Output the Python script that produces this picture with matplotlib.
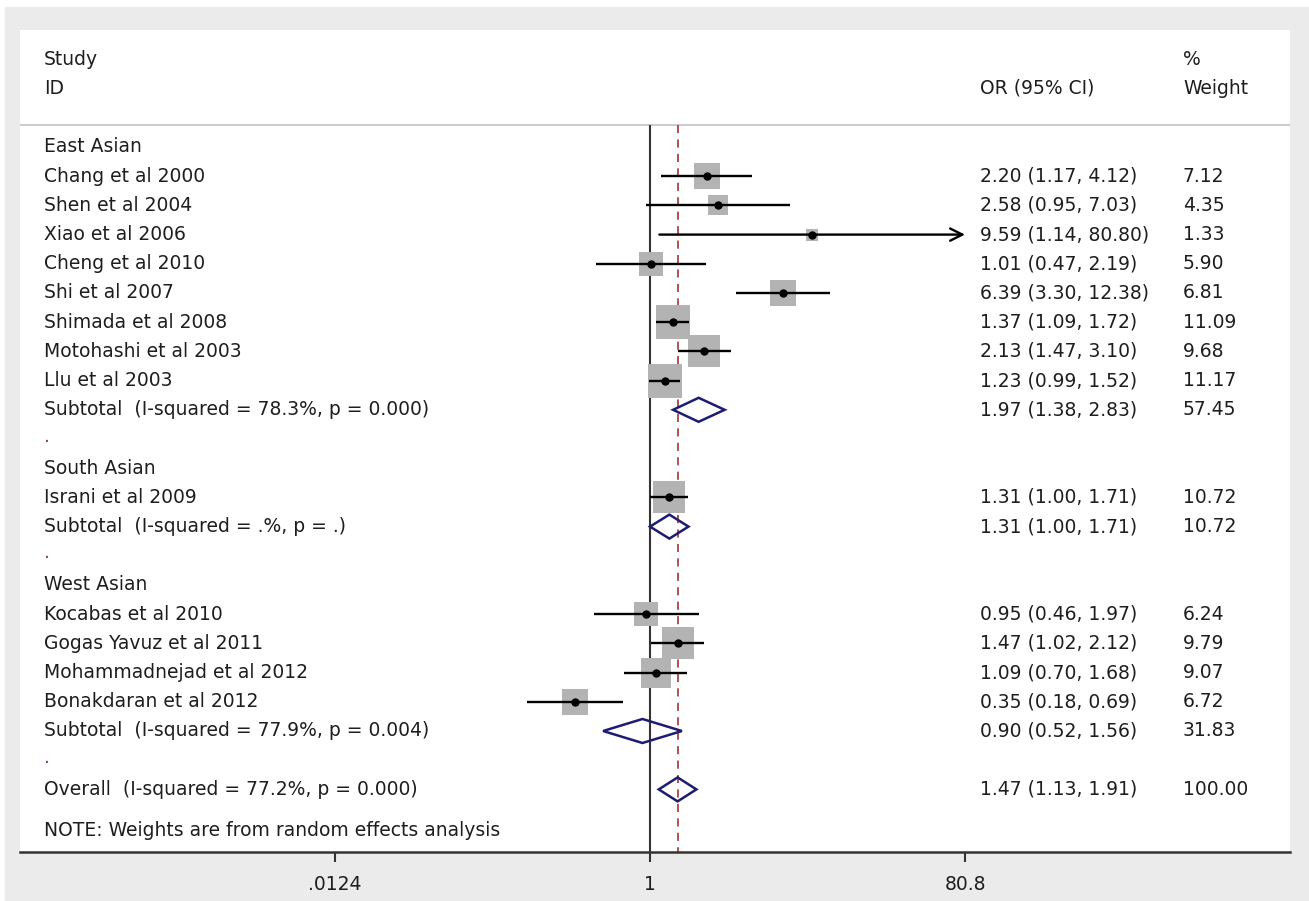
import matplotlib
matplotlib.use("Agg")
import matplotlib.pyplot as plt
from matplotlib.patches import Rectangle, Polygon
import numpy as np

plt.rcParams['font.family'] = ['DejaVu Sans']

# ---------------- data ----------------
groups = ["East Asian", "South Asian", "West Asian"]
studies = [
    ["Chang et al 2000", "Shen et al 2004", "Xiao et al 2006", "Cheng et al 2010",
     "Shi et al 2007", "Shimada et al 2008", "Motohashi et al 2003", "Llu et al 2003"],
    ["Israni et al 2009"],
    ["Kocabas et al 2010", "Gogas Yavuz et al 2011", "Mohammadnejad et al 2012",
     "Bonakdaran et al 2012"],
]
study_or = [[2.20, 2.58, 9.59, 1.01, 6.39, 1.37, 2.13, 1.23], [1.31], [0.95, 1.47, 1.09, 0.35]]
study_lo = [[1.17, 0.95, 1.14, 0.47, 3.30, 1.09, 1.47, 0.99], [1.00], [0.46, 1.02, 0.70, 0.18]]
study_hi = [[4.12, 7.03, 80.80, 2.19, 12.38, 1.72, 3.10, 1.52], [1.71], [1.97, 2.12, 1.68, 0.69]]
study_w = [[7.12, 4.35, 1.33, 5.90, 6.81, 11.09, 9.68, 11.17], [10.72], [6.24, 9.79, 9.07, 6.72]]

sub_labels = ["Subtotal  (I-squared = 78.3%, p = 0.000)",
              "Subtotal  (I-squared = .%, p = .)",
              "Subtotal  (I-squared = 77.9%, p = 0.004)"]
sub_or = [1.97, 1.31, 0.90]
sub_lo = [1.38, 1.00, 0.52]
sub_hi = [2.83, 1.71, 1.56]
sub_w = [57.45, 10.72, 31.83]

overall_label = "Overall  (I-squared = 77.2%, p = 0.000)"
overall_or, overall_lo, overall_hi, overall_w = 1.47, 1.13, 1.91, 100.00

xticks = [0.0124, 1, 80.8]
xticklabels = [".0124", "1", "80.8"]
note = "NOTE: Weights are from random effects analysis"

# ---------------- layout ----------------
W, H = 1309, 901
fig = plt.figure(figsize=(W / 100, H / 100), dpi=100, facecolor="white")
fig.patches.append(Rectangle((5 / W, 0), 1, (H - 7) / H, transform=fig.transFigure,
                             color="#ebebeb", zorder=-10))

px_left, px_right, px_top, px_bottom = 20, 1290, 30, 852
ax = fig.add_axes([px_left / W, (H - px_bottom) / H,
                   (px_right - px_left) / W, (px_bottom - px_top) / H])
ax.set_facecolor("white")

row0, dy = 147, 29.2
y_top = (px_top - row0) / dy
y_bot = (px_bottom - row0) / dy
ax.set_ylim(y_bot, y_top)

ax.set_xscale("log")
ppl = 315 / np.log(80.8)
ax.set_xlim(np.exp((px_left - 650) / ppl), np.exp((px_right - 650) / ppl))

for s in ["top", "left", "right"]:
    ax.spines[s].set_visible(False)
ax.spines["bottom"].set_color("#333333")
ax.spines["bottom"].set_linewidth(1.8)
ax.set_yticks([])
ax.set_xticks(xticks)
ax.set_xticklabels(xticklabels)
ax.xaxis.set_minor_locator(matplotlib.ticker.NullLocator())
ax.tick_params(axis="x", length=7.5, width=1.5, color="#333333", pad=9,
               labelsize=13.5, labelcolor="#1e1e1e")

tc = "#1e1e1e"
fs = 13.5
tr = ax.get_yaxis_transform()  # x in axes fraction, y in data rows
x_lab = (44 - px_left) / (px_right - px_left)
x_or = (980 - px_left) / (px_right - px_left)
x_w = (1183 - px_left) / (px_right - px_left)


def txt(x, y, s, color=tc):
    ax.text(x, y, s, transform=tr, ha="left", va="center", fontsize=fs, color=color)


# header
txt(x_lab, -2.98, "Study")
txt(x_lab, -2.02, "ID")
txt(x_or, -2.02, "OR (95% CI)")
txt(x_w, -2.98, "%")
txt(x_w, -2.02, "Weight")
ax.axhline(-0.75, color="#cccccc", lw=1.5)

# reference lines
ax.vlines(1, -0.75, y_bot, color="#333333", lw=1.5, zorder=2)
ax.vlines(overall_or, -0.75, y_bot, color="#a84444", lw=1.3,
          linestyles=(0, (4.5, 3.5)), zorder=2)

navy = "#1c1c72"
dh = 12 / dy


def diamond(r, est, lo, hi):
    ax.add_patch(Polygon([(lo, r), (est, r - dh), (hi, r), (est, r + dh)],
                         closed=True, fill=False, edgecolor=navy, lw=1.8, zorder=4))


r = 0
for g in range(len(groups)):
    txt(x_lab, r, groups[g])
    r += 1
    for i, name in enumerate(studies[g]):
        est, lo, hi, w = study_or[g][i], study_lo[g][i], study_hi[g][i], study_w[g][i]
        side = 10 * np.sqrt(w) * 0.72
        ax.scatter([est], [r], marker="s", s=side ** 2, color="#b3b3b3", lw=0, zorder=3)
        if hi >= 80.8:
            ax.annotate("", xy=(hi, r), xytext=(lo, r),
                        arrowprops=dict(arrowstyle="->", lw=1.7, color="black",
                                        shrinkA=0, shrinkB=0, mutation_scale=22),
                        zorder=4)
        else:
            ax.plot([lo, hi], [r, r], color="black", lw=1.7, zorder=4, solid_capstyle="butt")
        ax.plot([est], [r], marker="o", ms=5, color="black", zorder=5)
        txt(x_lab, r, name)
        txt(x_or, r, f"{est:.2f} ({lo:.2f}, {hi:.2f})")
        txt(x_w, r, f"{w:.2f}")
        r += 1
    txt(x_lab, r, sub_labels[g])
    diamond(r, sub_or[g], sub_lo[g], sub_hi[g])
    txt(x_or, r, f"{sub_or[g]:.2f} ({sub_lo[g]:.2f}, {sub_hi[g]:.2f})")
    txt(x_w, r, f"{sub_w[g]:.2f}")
    r += 1
    txt(x_lab, r - 0.1, ".", color="#7a3a7a")
    r += 1

txt(x_lab, r, overall_label)
diamond(r, overall_or, overall_lo, overall_hi)
txt(x_or, r, f"{overall_or:.2f} ({overall_lo:.2f}, {overall_hi:.2f})")
txt(x_w, r, f"{overall_w:.2f}")
txt(x_lab, r + 1.4, note)

fig.savefig("out.png", dpi=100, facecolor="white")
